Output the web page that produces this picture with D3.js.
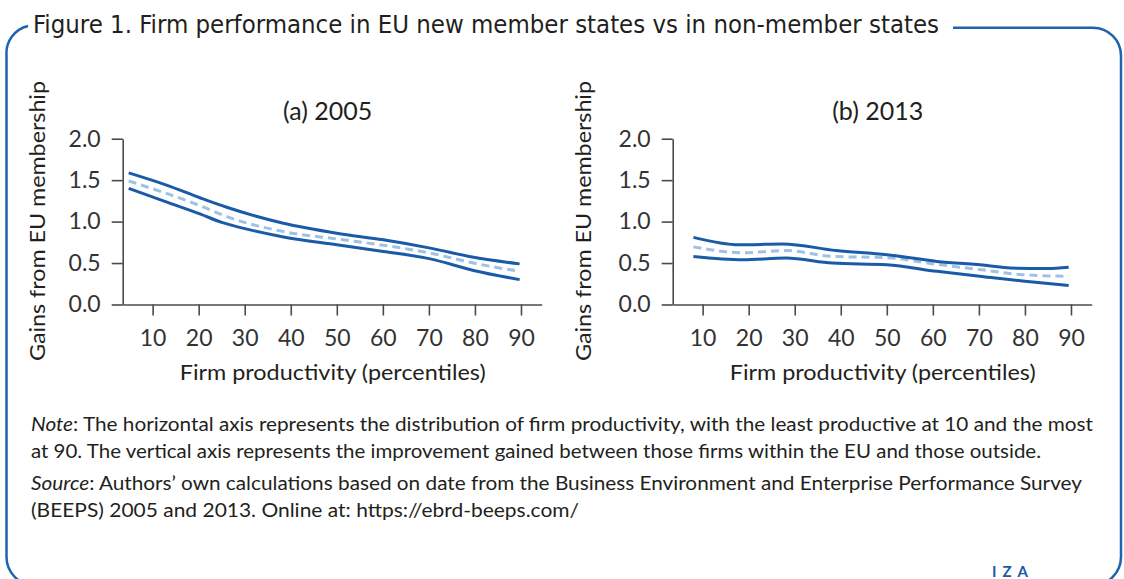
<!DOCTYPE html>
<html>
<head>
<meta charset="utf-8">
<script src="https://cdn.jsdelivr.net/npm/d3@7"></script>
<style>
  html, body { margin: 0; padding: 0; background: #fff; }
  svg { display: block; font-family: Lato, "Open Sans", sans-serif; }
</style>
</head>
<body>
<svg id="chart" width="1124" height="579"></svg>
<script>
// ---- data ----
// panel (a) 2005
const pctA_upper = [4.8, 13, 20.4, 26.1, 38.4, 50, 60.1, 70.3, 79.7, 89.7]
const valA_upper = [1.587, 1.44, 1.285, 1.173, 0.98, 0.86, 0.78, 0.68, 0.57, 0.49]
const pctA_lower = [4.8, 13.1, 20.4, 25, 31.2, 38.4, 50, 60.1, 70.3, 79.7, 89.7]
const valA_lower = [1.40, 1.235, 1.09, 0.99, 0.90, 0.815, 0.72, 0.64, 0.55, 0.41, 0.30]
const pctA_mid = [4.8, 20.4, 26.1, 38.4, 50, 60.1, 70.3, 79.7, 89.7]
const valA_mid = [1.49, 1.19, 1.06, 0.88, 0.79, 0.715, 0.62, 0.50, 0.40]

// panel (b) 2013
const pctB_upper = [8, 18, 27.4, 39, 50, 60.9, 71.8, 76.8, 84.8, 89.5]
const valB_upper = [0.81, 0.72, 0.73, 0.65, 0.60, 0.52, 0.47, 0.44, 0.435, 0.45]
const pctB_lower = [8, 18.7, 28.1, 38.2, 50, 60.9, 71.8, 80, 89.5]
const valB_lower = [0.58, 0.54, 0.56, 0.50, 0.48, 0.40, 0.33, 0.28, 0.23]
const pctB_mid = [8, 18.7, 28.1, 38.2, 50, 60.9, 71.8, 79.4, 89.5]
const valB_mid = [0.695, 0.625, 0.65, 0.58, 0.565, 0.485, 0.41, 0.36, 0.34]

const xTicks = [10, 20, 30, 40, 50, 60, 70, 80, 90]
const yTicks = [0, 0.5, 1.0, 1.5, 2.0]

const titleText = "Figure 1. Firm performance in EU new member states vs in non-member states"
const panelTitles = ["(a) 2005", "(b) 2013"]
const yLabel = "Gains from EU membership"
const xLabel = "Firm productivity (percentiles)"

const blue = "#1a5ba8"
const lightBlue = "#9fc1e5"
const frameBlue = "#1f63ad"
const axisGrey = "#4a4a4a"
const textCol = "#231f20"

const svg = d3.select("#chart")

// frame round the figure
svg.append("path")
  .attr("d", "M953,27.7 H1093 A28,28 0 0 1 1121,55.7 V557 A28,28 0 0 1 1093,585 H34.5 A28,28 0 0 1 6.5,557 V55 A28,28 0 0 1 28,26")
  .attr("fill", "none")
  .attr("stroke", frameBlue)
  .attr("stroke-width", 2.5)

svg.append("text")
  .attr("x", 33).attr("y", 33)
  .attr("font-family", "'Liberation Sans Narrow', 'DejaVu Sans Condensed', sans-serif")
  .attr("font-size", 25)
  .attr("fill", textCol)
  .attr("textLength", 906).attr("lengthAdjust", "spacingAndGlyphs")
  .text(titleText)

// panel layout
const plotW = 419, yTop = 138.7, yBot = 304.5

const x = d3.scaleLinear().domain([3.5, 94.5]).range([0, plotW])
const y = d3.scaleLinear().domain([0, 2]).range([yBot, yTop])

const line = d3.line()
  .x(d => x(d[0]))
  .y(d => y(d[1]))
  .curve(d3.curveMonotoneX)

const panels = [
  {left: 122.7, title: panelTitles[0], ylab: 45,
   upper: d3.zip(pctA_upper, valA_upper), lower: d3.zip(pctA_lower, valA_lower), mid: d3.zip(pctA_mid, valA_mid)},
  {left: 672.7, title: panelTitles[1], ylab: 591,
   upper: d3.zip(pctB_upper, valB_upper), lower: d3.zip(pctB_lower, valB_lower), mid: d3.zip(pctB_mid, valB_mid)}
]

panels.forEach(p => {
  const g = svg.append("g").attr("transform", `translate(${p.left},0)`)

  // axes
  const xa = g.append("g")
    .attr("transform", `translate(0,${yBot})`)
    .call(d3.axisBottom(x).tickValues(xTicks).tickSize(11).tickPadding(14).tickSizeOuter(0))
  const ya = g.append("g")
    .call(d3.axisLeft(y).tickValues(yTicks).tickFormat(d3.format(".1f")).tickSize(11).tickPadding(11).tickSizeOuter(0))

  ;[xa, ya].forEach(a => {
    a.select(".domain").attr("stroke", axisGrey).attr("stroke-width", 1.6)
    a.selectAll(".tick line").attr("stroke", axisGrey).attr("stroke-width", 1.6)
    a.selectAll(".tick text").attr("font-size", 23).attr("fill", "#333")
      .attr("font-family", "Lato, 'Open Sans', sans-serif")
  })

  // lines
  g.append("path").datum(p.mid)
    .attr("d", line).attr("fill", "none")
    .attr("stroke", lightBlue).attr("stroke-width", 3)
    .attr("stroke-dasharray", "8,5")
  ;[p.upper, p.lower].forEach(s => {
    g.append("path").datum(s)
      .attr("d", line).attr("fill", "none")
      .attr("stroke", blue).attr("stroke-width", 3)
  })

  // labels
  g.append("text")
    .attr("x", 205).attr("y", 120)
    .attr("text-anchor", "middle")
    .attr("font-size", 25).attr("fill", textCol)
    .text(p.title)

  g.append("text")
    .attr("x", 210).attr("y", 380)
    .attr("text-anchor", "middle")
    .attr("font-size", 21).attr("fill", textCol)
    .attr("textLength", 306).attr("lengthAdjust", "spacingAndGlyphs")
    .text(xLabel)

  svg.append("text")
    .attr("transform", `translate(${p.ylab},221) rotate(-90)`)
    .attr("text-anchor", "middle")
    .attr("font-size", 21).attr("fill", textCol)
    .attr("textLength", 280).attr("lengthAdjust", "spacingAndGlyphs")
    .text(yLabel)
})

// note and source
const notes = [
  {y: 431, w: 1062, parts: [["Note", true], [": The horizontal axis represents the distribution of firm productivity, with the least productive at 10 and the most", false]]},
  {y: 458, w: 1010, parts: [["at 90. The vertical axis represents the improvement gained between those firms within the EU and those outside.", false]]},
  {y: 490, w: 1051, parts: [["Source", true], [": Authors\u2019 own calculations based on date from the Business Environment and Enterprise Performance Survey", false]]},
  {y: 517, w: 548, parts: [["(BEEPS) 2005 and 2013. Online at: https://ebrd-beeps.com/", false]]}
]

notes.forEach(n => {
  const t = svg.append("text")
    .attr("x", 31).attr("y", n.y)
    .attr("font-size", 18.5).attr("fill", textCol)
    .attr("textLength", n.w).attr("lengthAdjust", "spacingAndGlyphs")
  n.parts.forEach(pt => {
    t.append("tspan")
      .attr("font-style", pt[1] ? "italic" : "normal")
      .text(pt[0])
  })
})

svg.append("text")
  .attr("x", 992).attr("y", 577)
  .attr("font-size", 15).attr("font-weight", "bold")
  .attr("fill", blue).attr("letter-spacing", 6)
  .text("IZA")
</script>
</body>
</html>
